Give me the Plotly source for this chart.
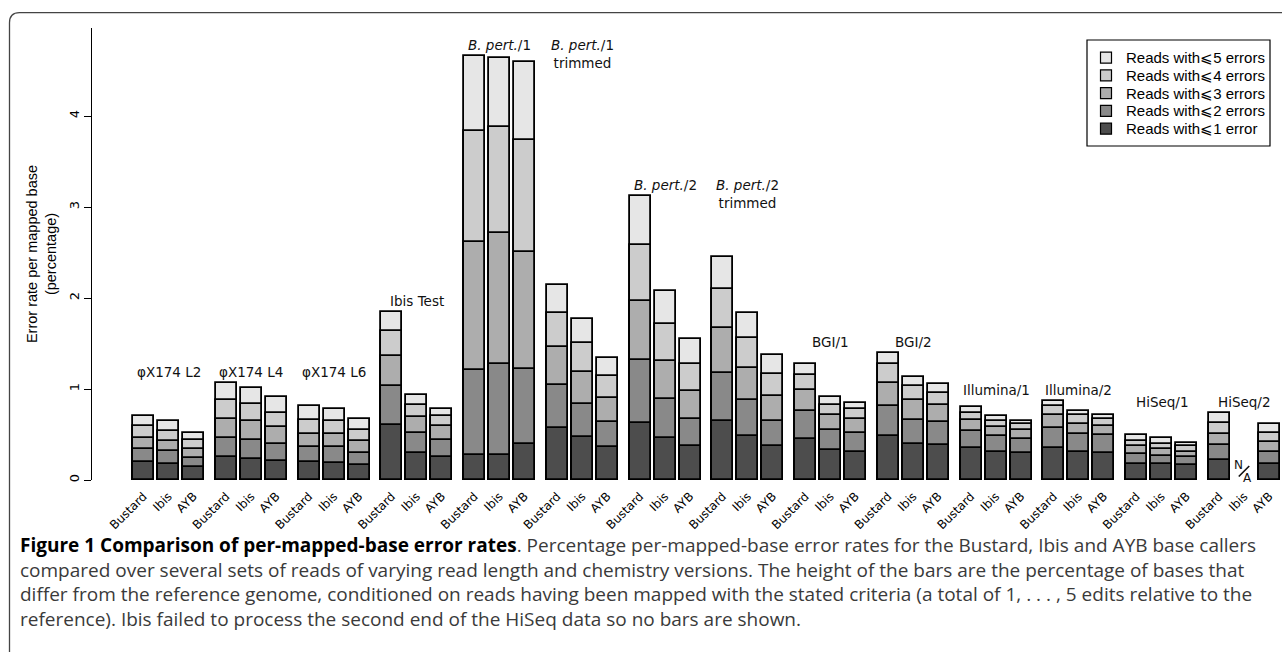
import plotly.graph_objects as go

# Read sets (group labels) and base callers
groups = ["φX174 L2", "φX174 L4", "φX174 L6", "Ibis Test",
          "<i>B. pert.</i>/1", "<i>B. pert.</i>/1<br>trimmed",
          "<i>B. pert.</i>/2", "<i>B. pert.</i>/2<br>trimmed",
          "BGI/1", "BGI/2", "Illumina/1", "Illumina/2", "HiSeq/1", "HiSeq/2"]
callers = ["Bustard", "Ibis", "AYB"]

# Groups whose labels share one height
label_rows = [[0, 1, 2], [3], [4, 5], [6, 7], [8, 9], [10, 11], [12, 13]]

series_names = ["Reads with⩽1 error", "Reads with⩽2 errors", "Reads with⩽3 errors",
                "Reads with⩽4 errors", "Reads with⩽5 errors"]

# Error rate per mapped base (%), cumulative by error threshold;
# order: group by group, Bustard / Ibis / AYB. None = not processed.
le1 = [0.20, 0.18, 0.14, 0.25, 0.23, 0.21, 0.20, 0.19, 0.17, 0.60, 0.30, 0.25,
       0.28, 0.28, 0.40, 0.57, 0.47, 0.36, 0.63, 0.46, 0.37, 0.65, 0.48, 0.37,
       0.45, 0.33, 0.31, 0.48, 0.40, 0.38, 0.35, 0.31, 0.30, 0.35, 0.31, 0.30,
       0.18, 0.18, 0.16, 0.22, None, 0.18]
le2 = [0.34, 0.32, 0.24, 0.46, 0.44, 0.40, 0.36, 0.36, 0.30, 1.03, 0.52, 0.44,
       1.21, 1.27, 1.22, 1.04, 0.84, 0.64, 1.32, 0.89, 0.67, 1.18, 0.88, 0.65,
       0.76, 0.55, 0.52, 0.81, 0.66, 0.64, 0.54, 0.48, 0.45, 0.57, 0.51, 0.49,
       0.29, 0.26, 0.25, 0.39, None, 0.31]
le3 = [0.46, 0.43, 0.34, 0.67, 0.65, 0.58, 0.51, 0.51, 0.43, 1.36, 0.69, 0.59,
       2.61, 2.71, 2.51, 1.46, 1.19, 0.90, 1.97, 1.31, 0.98, 1.67, 1.23, 0.92,
       0.99, 0.71, 0.67, 1.07, 0.88, 0.82, 0.66, 0.58, 0.55, 0.71, 0.62, 0.59,
       0.37, 0.34, 0.31, 0.51, None, 0.42]
le4 = [0.59, 0.54, 0.44, 0.88, 0.84, 0.74, 0.66, 0.65, 0.55, 1.64, 0.82, 0.70,
       3.84, 3.88, 3.74, 1.83, 1.51, 1.14, 2.58, 1.71, 1.28, 2.10, 1.56, 1.17,
       1.15, 0.82, 0.78, 1.27, 1.03, 0.96, 0.74, 0.65, 0.61, 0.81, 0.71, 0.67,
       0.43, 0.40, 0.37, 0.63, None, 0.52]
le5 = [0.70, 0.65, 0.52, 1.07, 1.01, 0.91, 0.81, 0.78, 0.67, 1.85, 0.93, 0.78,
       4.66, 4.64, 4.59, 2.14, 1.77, 1.34, 3.12, 2.08, 1.55, 2.45, 1.83, 1.37,
       1.27, 0.91, 0.85, 1.40, 1.13, 1.06, 0.80, 0.70, 0.65, 0.87, 0.76, 0.71,
       0.50, 0.46, 0.41, 0.74, None, 0.62]

series = [le1, le2, le3, le4, le5]
fills = ["#4d4d4d", "#898989", "#adadad", "#cccccc", "#e6e6e6"]

# ---- layout geometry (pixels) ----
W, H = 1282, 652
L, T, B = 92, 28, 172
PW, PH = W - L, H - T - B
GROUP_STEP = 3.31          # group spacing in bar-slot units
BAR_W = 0.84


def paper_x(px):
    return (px - L) / PW


def paper_y(py):
    return (H - B - py) / PH


ng, nc = len(groups), len(callers)
xpos = [g * GROUP_STEP + c for g in range(ng) for c in range(nc)]
ticktext = [callers[c] for g in range(ng) for c in range(nc)]

fig = go.Figure()
# tallest (most permissive) series first so the smaller ones sit on top
for k in reversed(range(len(series))):
    fig.add_trace(go.Bar(
        x=xpos, y=series[k], width=BAR_W, name=series_names[k],
        marker=dict(color=fills[k], line=dict(color="#000000", width=1.8)),
        showlegend=False,
    ))

annotations = []

# group labels above each set of bars
for row in label_rows:
    top = max(v for g in row for v in le5[g * nc:(g + 1) * nc] if v is not None)
    for g in row:
        annotations.append(dict(
            x=g * GROUP_STEP + 1, y=top, xref="x", yref="y",
            text=groups[g], showarrow=False, yanchor="top", yshift=21,
            font=dict(family="DejaVu Sans", size=13.5, color="#111111"),
        ))

# N/A marker where a caller produced no output
for i, v in enumerate(le5):
    if v is None:
        annotations.append(dict(x=xpos[i], y=0, xref="x", yref="y", text="N",
                                showarrow=False, xshift=-6, yshift=15,
                                font=dict(family="DejaVu Sans", size=12, color="#111")))
        annotations.append(dict(x=xpos[i], y=0, xref="x", yref="y", text="A",
                                showarrow=False, xshift=3, yshift=2,
                                font=dict(family="DejaVu Sans", size=12, color="#111")))
        annotations.append(dict(x=xpos[i], y=0, xref="x", yref="y", text="",
                                showarrow=True, arrowhead=0, arrowwidth=1.6,
                                arrowcolor="#111", ax=-12, ay=12,
                                xshift=5, yshift=14))

# legend drawn as a boxed key
shapes = []
leg_x0, leg_y0, leg_x1, leg_y1 = 1087, 40, 1270, 146
shapes.append(dict(type="rect", xref="paper", yref="paper",
                   x0=paper_x(leg_x0), x1=paper_x(leg_x1),
                   y0=paper_y(leg_y1), y1=paper_y(leg_y0),
                   line=dict(color="#000", width=1.2), fillcolor="white"))
for j, k in enumerate(reversed(range(len(series)))):
    cy = 57.7 + j * 17.75
    shapes.append(dict(type="rect", xref="paper", yref="paper",
                       x0=paper_x(1100.5), x1=paper_x(1111.5),
                       y0=paper_y(cy + 5.5), y1=paper_y(cy - 5.5),
                       line=dict(color="#000", width=1.2), fillcolor=fills[k]))
    annotations.append(dict(x=paper_x(1124), y=paper_y(cy), xref="paper", yref="paper",
                            text=series_names[k], showarrow=False,
                            xanchor="left", yanchor="middle",
                            font=dict(family="Liberation Sans", size=15, color="#000")))

# frame with a rounded top-left corner
r = 10
fx0, fy0, fx1, fy1 = 9.5, 12.7, 1300, 700
shapes.append(dict(
    type="path", xref="paper", yref="paper",
    path=(f"M {paper_x(fx0)},{paper_y(fy1)} L {paper_x(fx0)},{paper_y(fy0 + r)} "
          f"Q {paper_x(fx0)},{paper_y(fy0)} {paper_x(fx0 + r)},{paper_y(fy0)} "
          f"L {paper_x(fx1)},{paper_y(fy0)}"),
    line=dict(color="#444444", width=1.3),
))

# caption, one text block
caption = [
    "<span style='color:#000'><b>Figure 1 Comparison of per-mapped-base error rates</b></span>. "
    "Percentage per-mapped-base error rates for the Bustard, Ibis and AYB base callers",
    "compared over several sets of reads of varying read length and chemistry versions. "
    "The height of the bars are the percentage of bases that",
    "differ from the reference genome, conditioned on reads having been mapped with the "
    "stated criteria (a total of 1, . . . , 5 edits relative to the",
    "reference). Ibis failed to process the second end of the HiSeq data so no bars are shown.",
]
annotations.append(dict(x=paper_x(18), y=paper_y(530), xref="paper", yref="paper",
                        text="<br>".join(caption), showarrow=False, align="left",
                        xanchor="left", yanchor="top",
                        font=dict(family="Open Sans", size=19, color="#3a3a3a")))

fig.update_layout(
    width=W, height=H, autosize=False,
    margin=dict(l=L, r=0, t=T, b=B, pad=0),
    plot_bgcolor="white", paper_bgcolor="white",
    barmode="overlay", bargap=0,
    showlegend=False,
    annotations=annotations, shapes=shapes,
    xaxis=dict(range=[-2.06, 45.54], tickvals=xpos, ticktext=ticktext, tickangle=-45,
               showgrid=False, zeroline=False, showline=False, ticks="",
               ticklabelstandoff=6,
               tickfont=dict(family="DejaVu Sans", size=12, color="#000")),
    yaxis=dict(range=[0, 4.967], tickvals=[0, 1, 2, 3, 4], tickangle=-90,
               showgrid=False, zeroline=False, showline=True, linecolor="#000",
               linewidth=1.3, ticks="outside", ticklen=7, tickwidth=1.3, tickcolor="#000",
               tickfont=dict(family="DejaVu Sans", size=13, color="#000"),
               title=dict(text="Error rate per mapped base<br>(percentage)", standoff=6,
                          font=dict(family="Liberation Sans", size=14.5, color="#000"))),
)

fig.write_html("out.html")
